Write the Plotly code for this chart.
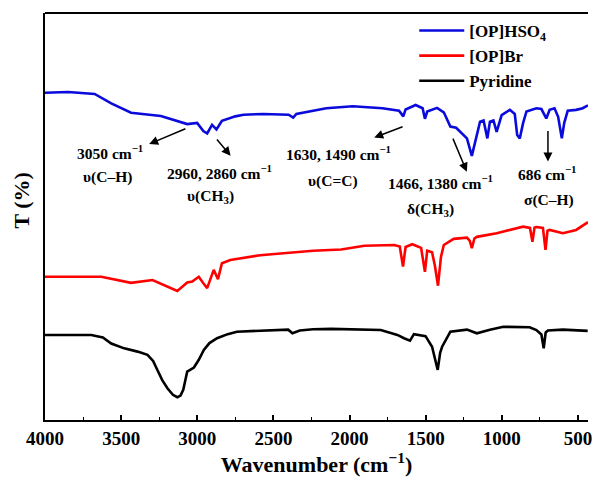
import plotly.graph_objects as go

# ---- data (wavenumber cm-1, transmittance offset units) ----
hso4_w = [4000, 3848, 3674, 3565, 3435, 3239, 3066, 3001, 2960, 2935, 2903, 2874, 2838, 2750, 2696,
          2566, 2400, 2370, 2349, 2153, 1979, 1784, 1675, 1647, 1632, 1566, 1520, 1505, 1490, 1425,
          1381, 1338, 1300, 1273, 1229, 1197, 1164, 1143, 1120, 1095, 1078, 1055, 1034, 1001, 947,
          915, 899, 882, 860, 838, 773, 740, 708, 686, 654, 630, 606, 590, 567, 512, 469, 434]
hso4_t = [80.4, 80.6, 80.1, 77.8, 75.5, 74.7, 72.7, 73.0, 71.0, 70.4, 72.5, 71.4, 73.5, 74.6, 75.0,
          75.2, 75.0, 74.3, 75.2, 76.6, 77.1, 76.6, 76.0, 74.6, 76.3, 77.4, 76.6, 74.0, 75.8, 76.7,
          75.6, 72.1, 71.8, 70.8, 69.2, 64.9, 70.5, 73.3, 73.6, 69.2, 73.3, 73.6, 70.8, 74.9, 76.2,
          75.2, 70.0, 69.2, 73.0, 75.8, 76.6, 76.4, 74.1, 76.2, 76.6, 74.5, 69.2, 73.0, 76.0, 76.2, 76.6, 77.3]

br_w = [4000, 3630, 3435, 3294, 3131, 3066, 3033, 2990, 2960, 2935, 2892, 2864, 2838, 2783, 2587,
        2370, 2240, 2055, 1903, 1707, 1670, 1649, 1632, 1588, 1530, 1505, 1490, 1458, 1440, 1419,
        1400, 1381, 1316, 1229, 1210, 1197, 1180, 1164, 1034, 860, 815, 799, 785, 773, 730, 713,
        700, 686, 599, 512, 434]
br_t = [35.2, 35.2, 33.7, 34.4, 31.7, 33.8, 34.0, 35.2, 33.6, 32.4, 36.9, 34.6, 38.5, 39.3, 40.5,
        41.2, 41.6, 41.9, 42.8, 43.0, 42.6, 37.7, 42.5, 43.2, 42.3, 36.4, 41.6, 41.2, 38.0, 33.0,
        40.0, 43.0, 44.5, 44.8, 44.0, 42.2, 44.6, 45.0, 45.9, 47.5, 47.2, 43.8, 47.3, 47.4, 47.2, 41.8,
        46.5, 46.7, 45.9, 46.7, 48.6]

py_w = [4000, 3696, 3620, 3565, 3480, 3392, 3327, 3290, 3262, 3230, 3196, 3160, 3131, 3110, 3092,
        3066, 3022, 2990, 2957, 2920, 2870, 2800, 2740, 2479,
        2403, 2375, 2327, 2240, 2121, 1795, 1686, 1642, 1603, 1577, 1501, 1458, 1440, 1421, 1405,
        1392, 1338, 1229, 1164, 1078, 990, 817, 773, 740, 725, 712, 697, 599, 436]
py_t = [20.9, 20.9, 20.3, 18.8, 17.6, 16.8, 16.0, 14.5, 12.3, 9.8, 7.8, 6.2, 5.6, 6.0, 7.4,
        11.9, 12.9, 14.8, 17.2, 18.9, 20.1, 21.1, 21.7, 22.1,
        22.2, 21.3, 22.0, 22.3, 22.4, 22.1, 20.9, 20.1, 19.5, 21.1, 20.6, 18.0, 15.5, 12.3, 16.5,
        18.0, 21.7, 22.2, 21.3, 22.2, 22.9, 22.8, 22.1, 21.0, 17.6, 21.5, 22.0, 22.2, 21.9]

series_names = ["[OP]HSO<sub>4</sub>", "[OP]Br", "Pyridine"]
tick_vals = [4000, 3500, 3000, 2500, 2000, 1500, 1000, 500]

# annotation labels: (text, wavenumber, T)
labels = [
    ("3050 cm<sup>\u22121</sup>", 3570, 65.8),
    ("\u03c5(C\u2013H)", 3589, 59.7),
    ("2960, 2860 cm<sup>\u22121</sup>", 2853, 60.9),
    ("\u03c5(CH<sub>3</sub>)", 2911, 54.8),
    ("1630, 1490 cm<sup>\u22121</sup>", 2070, 65.6),
    ("\u03c5(C=C)", 2110, 58.7),
    ("1466, 1380 cm<sup>\u22121</sup>", 1405, 58.5),
    ("\u03b4(CH<sub>3</sub>)", 1471, 51.6),
    ("686 cm<sup>\u22121</sup>", 698, 60.7),
    ("\u03c3(C\u2013H)", 688, 54.1),
]
# arrows: (tail_w, tail_t, head_w, head_t)
arrows = [
    (3068, 71.7, 3316, 67.8),
    (2879, 69.3, 2781, 64.9),
    (1642, 72.2, 1838, 69.4),
    (1325, 69.5, 1230, 61.0),
    (697, 71.4, 697, 63.5),
]

FONT = "Liberation Serif"
fig = go.Figure()
for (w, t), name, col in zip([(hso4_w, hso4_t), (br_w, br_t), (py_w, py_t)], series_names,
                             ["#0a0adc", "#ff0000", "#000000"]):
    fig.add_trace(go.Scatter(x=w, y=t, mode="lines", name="<b>" + name + "</b>", legendgroup=name,
                             line=dict(color=col, width=2.6)))

for txt, x, y in labels:
    fig.add_annotation(x=x, y=y, text="<b>" + txt + "</b>", showarrow=False,
                       font=dict(family=FONT, size=15.5, color="black"))
for tw, tt, hw, ht in arrows:
    fig.add_annotation(x=hw, y=ht, ax=tw, ay=tt, axref="x", ayref="y", xref="x", yref="y",
                       text="", showarrow=True, arrowhead=2, arrowsize=1.2, arrowwidth=1.5,
                       arrowcolor="black")

fig.add_annotation(x=-0.017, y=0.54, xref="paper", yref="paper", text="<b>T (%)</b>",
                   xanchor="right", yanchor="middle",
                   textangle=-90, showarrow=False, font=dict(family=FONT, size=22, color="black"))
fig.add_shape(type="line", xref="paper", yref="paper", x0=0, x1=1, y0=1, y1=1,
              line=dict(color="black", width=1.8))

fig.update_layout(
    width=592, height=482, margin=dict(l=45, r=0, t=13, b=62),
    paper_bgcolor="white", plot_bgcolor="white",
    font=dict(family=FONT, color="black"),
    legend=dict(x=0.68, y=1.0, xanchor="left", yanchor="top", bgcolor="rgba(0,0,0,0)",
                font=dict(family=FONT, size=17, color="black"), tracegroupgap=0,
                itemwidth=45),
    xaxis=dict(range=[4000, 434], showgrid=False, zeroline=False, showline=True,
               linecolor="black", linewidth=1.8, ticks="inside", ticklen=5, tickwidth=1.5,
               tickcolor="black", tickvals=tick_vals, ticklabeloverflow="allow",
               ticktext=["<b>%d</b>" % v for v in tick_vals],
               tickfont=dict(family=FONT, size=19, color="black"),
               minor=dict(ticks="inside", ticklen=3, tickwidth=1.2, tickcolor="black", dtick=250,
                          tick0=0, showgrid=False),
               title=dict(text="<b>Wavenumber (cm<sup>\u22121</sup>)</b>",
                          font=dict(family=FONT, size=22, color="black"), standoff=6)),
    yaxis=dict(range=[0, 100], showgrid=False, zeroline=False, showline=True,
               linecolor="black", linewidth=1.8, showticklabels=False, ticks=""),
)
fig.write_html("out.html")
